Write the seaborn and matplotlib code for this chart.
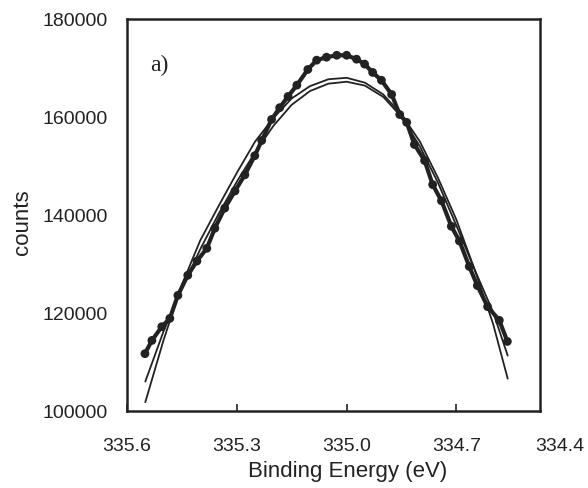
import matplotlib
matplotlib.use("Agg")
import matplotlib.pyplot as plt
import seaborn as sns

# Measured data points (binding energy in eV, counts)
dots_x = [335.551, 335.532, 335.505, 335.483, 335.461, 335.434, 335.409, 335.382,
          335.360, 335.333, 335.305, 335.278, 335.251, 335.232, 335.205, 335.183,
          335.160, 335.136, 335.106, 335.082, 335.055, 335.027, 335.000, 334.973,
          334.951, 334.929, 334.905, 334.877, 334.855, 334.836, 334.815, 334.787,
          334.765, 334.741, 334.714, 334.692, 334.665, 334.643, 334.615, 334.583,
          334.561]
dots_y = [111700, 114400, 117200, 118900, 123600, 127700, 130600, 133200,
          137300, 141400, 144900, 148200, 152100, 155200, 159500, 161900,
          164200, 166500, 169700, 171600, 172200, 172600, 172600, 171800,
          170800, 169100, 167500, 164600, 160500, 158900, 154400, 151100,
          146200, 142900, 137700, 134700, 129500, 125600, 121300, 118500,
          114200]

# Fitted curves
fit_x = [335.55, 335.50, 335.45, 335.40, 335.35, 335.30, 335.25, 335.20, 335.15,
         335.10, 335.05, 335.00, 334.95, 334.90, 334.85, 334.80, 334.75, 334.70,
         334.65, 334.60, 334.56]
fitA_y = [101800, 114500, 125800, 134800, 141800, 148600, 155000, 159800, 163800,
          166300, 167700, 168000, 167000, 164600, 160500, 155000, 147500, 139000,
          128800, 117800, 106600]
fitB_y = [106000, 116300, 125000, 133000, 140200, 146800, 152800, 158200, 162500,
          165300, 166800, 167200, 166400, 164100, 160000, 154000, 146500, 137800,
          128800, 120200, 111300]

xtick_vals = [335.6, 335.3, 335.0, 334.7]
xtick_labels = ["335.6", "335.3", "335.0", "334.7"]
extra_xtick = 334.4
ytick_vals = [100000, 120000, 140000, 160000, 180000]

sns.set_style("white")
plt.rcParams['font.family'] = ['Liberation Sans', 'DejaVu Sans']

ink = '#222222'
fig = plt.figure(figsize=(5.88, 4.89), dpi=100)
ax = fig.add_axes([127/588, 77/489, 413/588, 392/489])

sns.lineplot(x=fit_x, y=fitA_y, ax=ax, color=ink, lw=1.3)
sns.lineplot(x=fit_x, y=fitB_y, ax=ax, color=ink, lw=1.3)
sns.lineplot(x=dots_x, y=dots_y, ax=ax, color=ink, lw=3.0)
sns.scatterplot(x=dots_x, y=dots_y, ax=ax, color=ink, s=40, edgecolor='none',
                zorder=3)

ax.set_xlim(335.6, 334.4718)
ax.set_ylim(100000, 180000)
ax.set_xticks(xtick_vals)
ax.set_xticklabels(xtick_labels)
ax.set_yticks(ytick_vals)
ax.set_yticklabels([str(v) for v in ytick_vals])
ax.tick_params(axis='x', direction='in', length=5, width=1.2, pad=19,
               labelsize=14, colors=ink, bottom=True)
ax.tick_params(axis='y', length=0, pad=14, labelsize=14, colors=ink, left=True)
ax.annotate(f"{extra_xtick:.1f}", xy=(extra_xtick, 0),
            xycoords=('data', 'axes fraction'), xytext=(-5, -19),
            textcoords='offset points', ha='center', va='top', fontsize=14,
            color=ink, annotation_clip=False)

for sp in ax.spines.values():
    sp.set_visible(True)
    sp.set_linewidth(1.8)
    sp.set_color(ink)

ax.set_xlabel("Binding Energy (eV)", fontsize=16, color=ink)
ax.xaxis.set_label_coords(0.533, -0.125)
ax.set_ylabel("counts", fontsize=16, color=ink)
ax.yaxis.set_label_coords(-0.228, 0.485)

ax.text(0.055, 0.885, "a)", transform=ax.transAxes, fontsize=17,
        family='Liberation Serif', va='center', ha='left', color=ink)

fig.savefig("out.png", dpi=100)
